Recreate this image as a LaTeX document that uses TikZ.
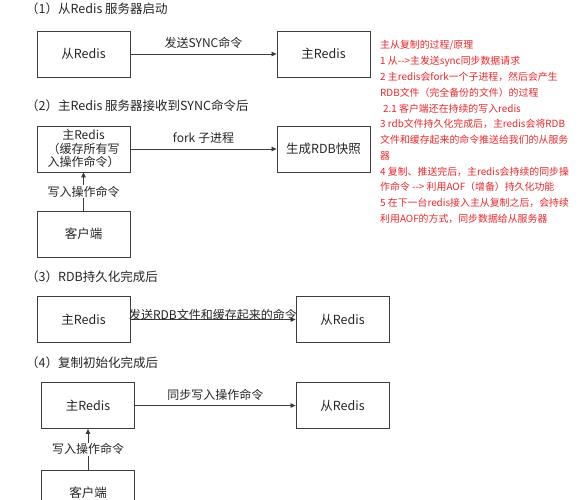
\documentclass[tikz,border=0pt]{standalone}
\usepackage{fontspec}
\setmainfont{Noto Sans CJK SC}
\usetikzlibrary{arrows.meta}
\definecolor{boxline}{RGB}{60,60,60}
\definecolor{notered}{RGB}{232,40,45}
\tikzset{
  box/.style={draw=boxline,line width=0.9pt,minimum width=93pt,minimum height=46pt,inner sep=0pt,font=\fontsize{12.5}{13.5}\selectfont,text=black!85,align=center},
  head/.style={anchor=west,inner sep=0pt,font=\fontsize{12.5}{14}\selectfont,text=black!85},
  lbl/.style={inner sep=0pt,font=\fontsize{12}{14}\selectfont,text=black!85},
  conn/.style={draw=boxline,line width=0.8pt,-{Triangle[length=5pt,width=4.5pt]}},
  note/.style={anchor=west,inner sep=0pt,font=\fontsize{9.9}{11}\selectfont,text=notered}
}
\begin{document}
\begin{tikzpicture}[x=1pt,y=-1pt]
\useasboundingbox (0,0) rectangle (584,500);
\fill[white] (0,0) rectangle (584,500);
% (1)
\node[head] (h1) at (26,9) {（1）从Redis 服务器启动};
\node[box] (s1) at (83.5,54) {从Redis};
\node[box] (m1) at (323.5,54) {主Redis};
\draw[conn] (s1) -- node[lbl,above=5pt] {发送SYNC命令} (m1);
% (2)
\node[head] (h2) at (26,106) {（2）主Redis 服务器接收到SYNC命令后};
\node[box,font=\fontsize{12}{13.5}\selectfont] (m2) at (83.5,149) {主Redis\\（缓存所有写\\入操作命令）};
\node[box] (r2) at (323.5,149) {生成RDB快照};
\draw[conn] (m2) -- node[lbl,above=5pt] {fork 子进程} (r2);
\node[box] (c2) at (83.5,234) {客户端};
\draw[conn] (c2) -- node[lbl,fill=white,inner sep=1pt,pos=0.5] {写入操作命令} (m2);
% (3)
\node[head] (h3) at (26,277) {（3）RDB持久化完成后};
\node[box] (m3) at (83.5,319.5) {主Redis};
\node[box] (s3) at (342.5,319.5) {从Redis};
\draw[conn] (m3) -- node[lbl,above=-1pt] {发送RDB文件和缓存起来的命令} (s3);
% (4)
\node[head] (h4) at (26,363) {（4）复制初始化完成后};
\node[box] (m4) at (88,405.5) {主Redis};
\node[box] (s4) at (342.5,405.5) {从Redis};
\draw[conn] (m4) -- node[lbl,above=5pt] {同步写入操作命令} (s4);
\node[box] (c4) at (88,493) {客户端};
\draw[conn] (c4) -- node[lbl,fill=white,inner sep=1pt,pos=0.5] {写入操作命令} (m4);
% notes
\node[note] (n0) at (380,45) {主从复制的过程/原理};
\node[note] (n1) at (380,61) {1 从{-}{-}>主发送sync同步数据请求};
\node[note] (n2) at (380,77) {2 主redis会fork一个子进程，然后会产生};
\node[note] (n3) at (380,92.5) {RDB文件（完全备份的文件）的过程};
\node[note] (n4) at (383,108.5) {2.1 客户端还在持续的写入redis};
\node[note] (n5) at (380,124) {3 rdb文件持久化完成后，主redis会将RDB};
\node[note] (n6) at (380,140) {文件和缓存起来的命令推送给我们的从服务};
\node[note] (n7) at (380,155.5) {器};
\node[note] (n8) at (380,171.5) {4 复制、推送完后，主redis会持续的同步操};
\node[note] (n9) at (380,187) {作命令 {-}{-}> 利用AOF（增备）持久化功能};
\node[note] (n10) at (380,203) {5 在下一台redis接入主从复制之后，会持续};
\node[note] (n11) at (380,218.5) {利用AOF的方式，同步数据给从服务器};
\end{tikzpicture}
\end{document}
